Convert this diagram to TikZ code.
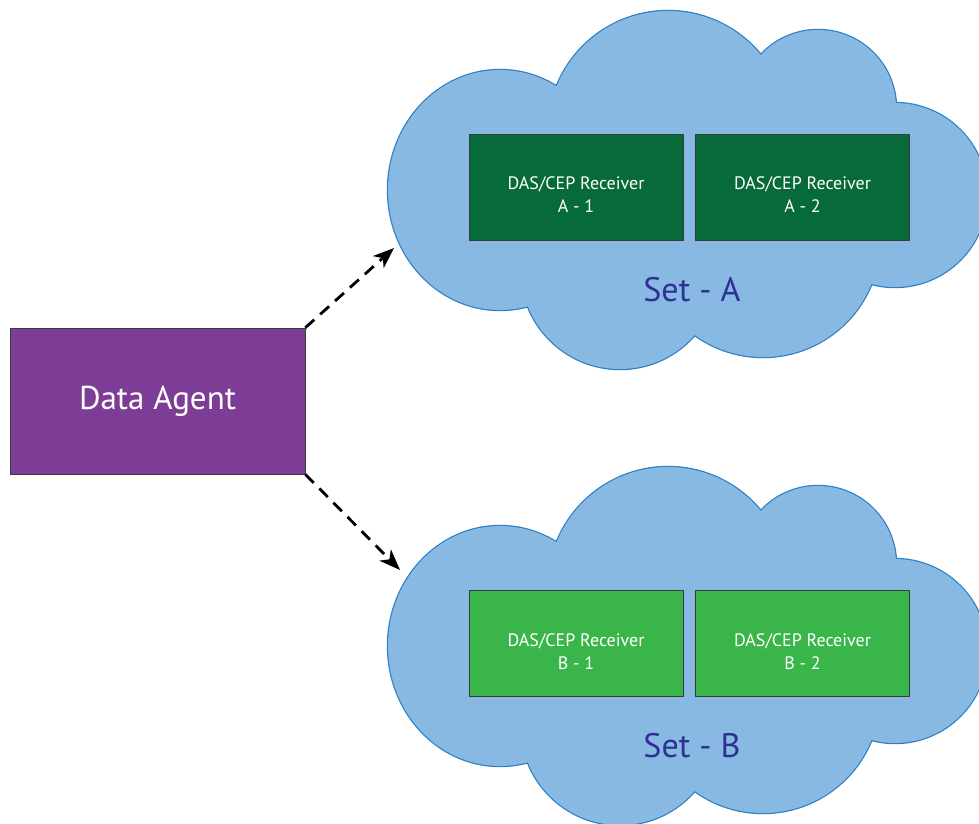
\documentclass[tikz,border=0pt]{standalone}
\usepackage{fontspec}
\setmainfont{PT Sans}
\usetikzlibrary{arrows.meta}
\definecolor{cloudfill}{HTML}{88B9E3}
\definecolor{cloudline}{HTML}{2C7FC4}
\definecolor{darkgreen}{HTML}{076A39}
\definecolor{lightgreen}{HTML}{3AB54A}
\definecolor{agentpurple}{HTML}{7D3C96}
\definecolor{setblue}{HTML}{2E3192}
\definecolor{boxline}{HTML}{3A3A3A}
\tikzset{
  cloudpic/.pic={
    \path[draw=cloudline, line width=2.4pt]
      (500,190) ellipse [x radius=112, y radius=120]
      (668,131) circle [radius=120]
      (818,108) circle [radius=78]
      (895,195) circle [radius=92]
      (763,240) circle [radius=117]
      (620,270) circle [radius=99];
    \path[fill=cloudfill]
      (500,190) ellipse [x radius=112, y radius=120]
      (668,131) circle [radius=120]
      (818,108) circle [radius=78]
      (895,195) circle [radius=92]
      (763,240) circle [radius=117]
      (620,270) circle [radius=99];
    \path[fill=cloudfill] (560,90) -- (762,60) -- (893,110) -- (870,280)
      -- (695,328) -- (527,302) -- cycle;
  },
  recv/.style={draw=boxline, line width=0.6pt, minimum width=214pt,
    minimum height=106pt, inner sep=0pt},
  recvtext/.style={text=white, align=center, inner sep=0pt, yshift=-8pt,
    font=\fontsize{18}{23}\selectfont},
  recvA/.style={recv, fill=darkgreen},
  recvB/.style={recv, fill=lightgreen},
  agentbox/.style={draw=boxline, line width=0.6pt, fill=agentpurple,
    minimum width=295pt, minimum height=146pt, text=white, inner sep=0pt,
    font=\fontsize{33}{40}\selectfont},
  settext/.style={text=setblue, inner sep=0pt, font=\fontsize{34}{40}\selectfont},
  conn/.style={line width=2.8pt, dash pattern=on 12pt off 8pt,
    -{Stealth[length=21pt, width=16pt, inset=6pt]}}
}
\begin{document}
\begin{tikzpicture}[x=1pt, y=-1pt]
\useasboundingbox (0,0) rectangle (979,823);
\fill[white] (0,0) rectangle (979,823);
\pic at (0,0) {cloudpic};
\pic at (0,456) {cloudpic};
\node[recvA, label={[recvtext]center:DAS/CEP Receiver\\A - 1}] (a1) at (576,187) {};
\node[recvA, label={[recvtext]center:DAS/CEP Receiver\\A - 2}] (a2) at (802.5,187) {};
\node[recvB, label={[recvtext]center:DAS/CEP Receiver\\B - 1}] (b1) at (576,643.5) {};
\node[recvB, label={[recvtext]center:DAS/CEP Receiver\\B - 2}] (b2) at (802.5,643.5) {};
\node[settext] (setA) at (692,290) {Set - A};
\node[settext] (setB) at (692,746) {Set - B};
\node[agentbox] (agent) at (157.5,401) {Data Agent};
\coordinate (tipA) at (394,248);
\coordinate (tipB) at (400,570);
\draw[conn] (agent.north east) -- (tipA);
\draw[conn] (agent.south east) -- (tipB);
\end{tikzpicture}
\end{document}
